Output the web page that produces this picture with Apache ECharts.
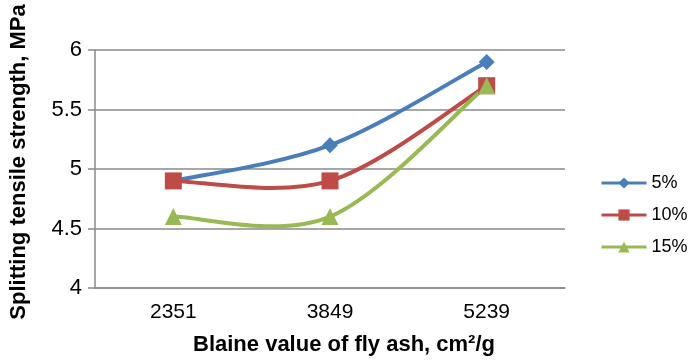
<!DOCTYPE html>
<html><head><meta charset="utf-8">
<script src="https://cdn.jsdelivr.net/npm/echarts@6/dist/echarts.min.js"></script>
<style>html,body{margin:0;padding:0;background:#fff}#c{width:691px;height:364px}</style>
</head><body><div id="c"></div>
<script>
var categories = ['2351', '3849', '5239'];
var s5 = [4.9, 5.2, 5.9];
var s10 = [4.9, 4.9, 5.7];
var s15 = [4.6, 4.6, 5.7];
var seriesNames = ['5%', '10%', '15%'];

var chart = echarts.init(document.getElementById('c'));
var font = 'Liberation Sans, Arial, Helvetica, sans-serif';
var colors = ['#4a7ebb', '#be4b48', '#98b954'];

function markerSeries(name, data, color, symbol, size) {
  return {
    name: name, type: 'line', data: data, smooth: false, z: 3,
    symbol: symbol, symbolSize: size, showSymbol: true,
    lineStyle: { color: color, width: 3.5, opacity: 0 },
    itemStyle: { color: color },
    emphasis: { disabled: true }
  };
}
// Excel-style smoothed curve drawn through the axes' coordinates
function curveSeries(id, vals, color) {
  return {
    name: id, type: 'custom', coordinateSystem: 'cartesian2d', z: 2, silent: true,
    data: [[0, vals[0]]],
    renderItem: function (params, api) {
      var n = vals.length;
      var p = vals.map(function (v, i) { return api.coord([i, v]); });
      var d = 'M' + p[0][0] + ' ' + p[0][1];
      for (var i = 0; i < n - 1; i++) {
        var p0 = p[Math.max(i - 1, 0)], p1 = p[i], p2 = p[i + 1], p3 = p[Math.min(i + 2, n - 1)];
        var c1x = p1[0] + (p2[0] - p0[0]) / 6, c1y = p1[1] + (p2[1] - p0[1]) / 6;
        var c2x = p2[0] - (p3[0] - p1[0]) / 6, c2y = p2[1] - (p3[1] - p1[1]) / 6;
        d += ' C' + c1x + ' ' + c1y + ' ' + c2x + ' ' + c2y + ' ' + p2[0] + ' ' + p2[1];
      }
      return { type: 'path', shape: { pathData: d },
        style: { fill: 'none', stroke: color, lineWidth: 4, lineJoin: 'round', lineCap: 'round' } };
    }
  };
}
chart.setOption({
  animation: false,
  grid: { left: 95, right: 126, top: 50, bottom: 76 },
  legend: {
    orient: 'vertical', left: 595, top: 169, itemGap: 14,
    itemWidth: 45, itemHeight: 14,
    lineStyle: { opacity: 1, width: 3 },
    textStyle: { fontFamily: font, fontSize: 18, color: '#000' },
    data: seriesNames
  },
  xAxis: {
    type: 'category', data: categories, boundaryGap: true,
    name: 'Blaine value of fly ash, cm²/g', nameLocation: 'middle', nameGap: 46,
    nameTextStyle: { fontFamily: font, fontSize: 22, fontWeight: 'bold', color: '#000', padding: [0, 0, 0, 28] },
    axisLine: { lineStyle: { color: '#8a8a8a', width: 1.5 } },
    axisTick: { show: false },
    axisLabel: { fontFamily: font, fontSize: 21, color: '#000', margin: 14 }
  },
  yAxis: {
    type: 'value', min: 4, max: 6, interval: 0.5,
    name: 'Splitting tensile strength, MPa', nameLocation: 'middle', nameGap: 65,
    nameTextStyle: { fontFamily: font, fontSize: 22, fontWeight: 'bold', color: '#000', padding: [0, 0, 0, 14] },
    axisLine: { show: true, lineStyle: { color: '#8a8a8a', width: 1.5 } },
    axisTick: { show: true, length: 7, lineStyle: { color: '#8a8a8a', width: 1.5 } },
    axisLabel: { fontFamily: font, fontSize: 22, color: '#000', margin: 13 },
    splitLine: { lineStyle: { color: '#8a8a8a', width: 1.5 } }
  },
  series: [
    curveSeries('c5', s5, colors[0]),
    curveSeries('c10', s10, colors[1]),
    curveSeries('c15', s15, colors[2]),
    markerSeries(seriesNames[0], s5, colors[0], 'diamond', 16),
    markerSeries(seriesNames[1], s10, colors[1], 'rect', 17),
    markerSeries(seriesNames[2], s15, colors[2], 'triangle', 17)
  ]
});
</script></body></html>
